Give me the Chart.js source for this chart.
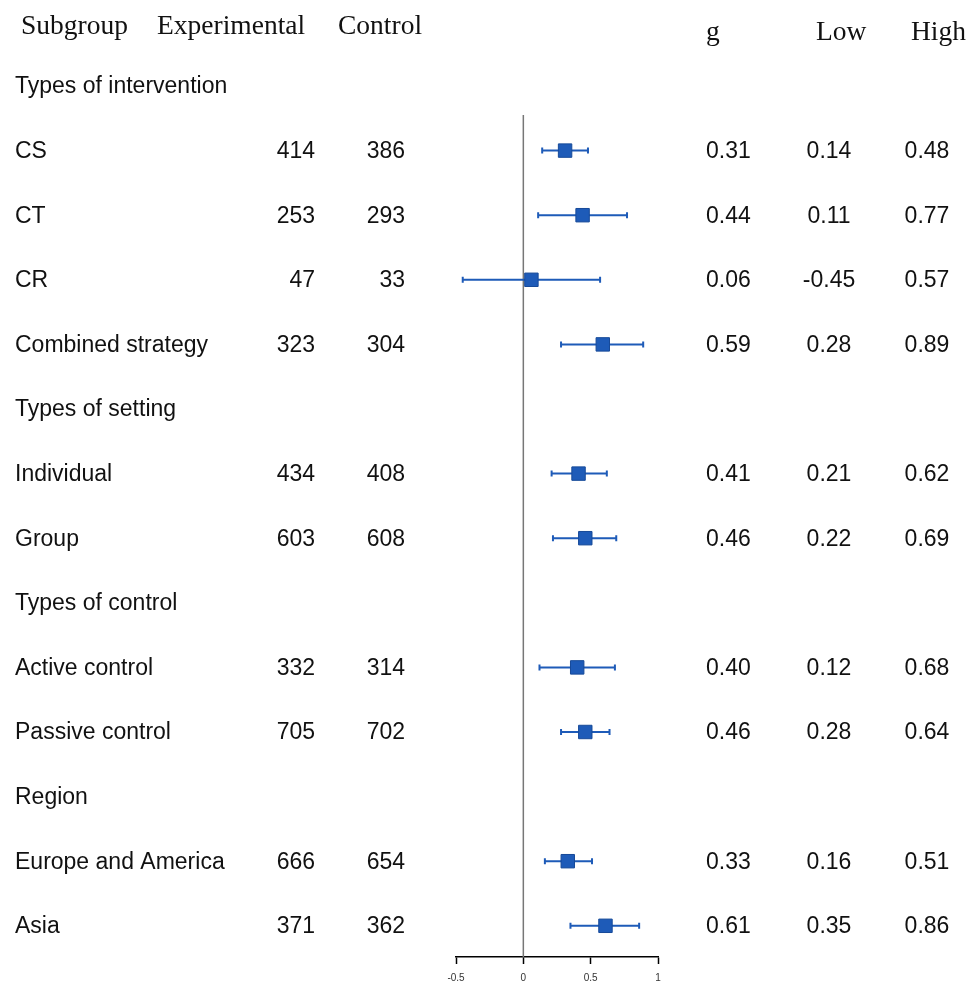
<!DOCTYPE html>
<html>
<head>
<meta charset="utf-8">
<script src="https://cdn.jsdelivr.net/npm/chart.js@4"></script>
<style>
  html, body { margin: 0; padding: 0; background: #fff; }
  #wrap { width: 978px; height: 986px; position: relative; }
</style>
</head>
<body>
<div id="wrap"><canvas id="c" width="978" height="986"></canvas></div>
<script>
// ---- data ----
const rowLabels = ['Types of intervention', 'CS', 'CT', 'CR', 'Combined strategy',
  'Types of setting', 'Individual', 'Group',
  'Types of control', 'Active control', 'Passive control',
  'Region', 'Europe and America', 'Asia'];
const experimentalN = [null, 414, 253, 47, 323, null, 434, 603, null, 332, 705, null, 666, 371];
const controlN      = [null, 386, 293, 33, 304, null, 408, 608, null, 314, 702, null, 654, 362];
const gValues   = [null, 0.31, 0.44, 0.06, 0.59, null, 0.41, 0.46, null, 0.40, 0.46, null, 0.33, 0.61];
const lowValues = [null, 0.14, 0.11, -0.45, 0.28, null, 0.21, 0.22, null, 0.12, 0.28, null, 0.16, 0.35];
const highValues= [null, 0.48, 0.77, 0.57, 0.89, null, 0.62, 0.69, null, 0.68, 0.64, null, 0.51, 0.86];
const xTicks = [-0.5, 0, 0.5, 1];
const headers = ['Subgroup', 'Experimental', 'Control', 'g', 'Low', 'High'];

const BLUE = '#1E5BB8';
const points = [];
gValues.forEach((g, i) => { if (g !== null) points.push({ x: g, y: i, lo: lowValues[i], hi: highValues[i] }); });

const forestPlugin = {
  id: 'forest',
  beforeDatasetsDraw(chart) {
    const { ctx, chartArea, scales: { x, y } } = chart;
    ctx.save();
    // zero reference line
    const x0 = x.getPixelForValue(0);
    ctx.strokeStyle = '#777';
    ctx.lineWidth = 1.5;
    ctx.beginPath();
    ctx.moveTo(x0, chartArea.top);
    ctx.lineTo(x0, chartArea.bottom);
    ctx.stroke();
    // error bars
    ctx.strokeStyle = BLUE;
    ctx.lineWidth = 2;
    points.forEach(p => {
      const py = y.getPixelForValue(p.y);
      const xl = x.getPixelForValue(p.lo), xh = x.getPixelForValue(p.hi);
      ctx.beginPath();
      ctx.moveTo(xl, py); ctx.lineTo(xh, py);
      ctx.moveTo(xl, py - 3); ctx.lineTo(xl, py + 3);
      ctx.moveTo(xh, py - 3); ctx.lineTo(xh, py + 3);
      ctx.stroke();
    });
    ctx.restore();
  },
  afterDraw(chart) {
    const { ctx, scales: { y } } = chart;
    ctx.save();
    // headers
    ctx.fillStyle = '#111';
    ctx.font = '27.5px "Liberation Serif", "Times New Roman", serif';
    ctx.textBaseline = 'alphabetic';
    ctx.textAlign = 'left';
    ctx.fillText(headers[0], 21, 34);
    ctx.fillText(headers[1], 157, 34);
    ctx.fillText(headers[2], 338, 34);
    ctx.fillText(headers[3], 706, 40);
    ctx.fillText(headers[4], 816, 40);
    ctx.fillText(headers[5], 911, 40);
    // rows
    ctx.font = '23px "Liberation Sans", Arial, sans-serif';
    ctx.textBaseline = 'middle';
    rowLabels.forEach((lab, i) => {
      const py = y.getPixelForValue(i) + 1;
      ctx.textAlign = 'left';
      ctx.fillText(lab, 15, py);
      if (experimentalN[i] !== null) {
        ctx.textAlign = 'right';
        ctx.fillText(String(experimentalN[i]), 315, py);
        ctx.fillText(String(controlN[i]), 405, py);
        ctx.textAlign = 'left';
        ctx.fillText(gValues[i].toFixed(2), 706, py);
        ctx.textAlign = 'center';
        ctx.fillText(lowValues[i].toFixed(2), 829, py);
        ctx.fillText(highValues[i].toFixed(2), 927, py);
      }
    });
    ctx.restore();
  }
};

new Chart(document.getElementById('c'), {
  type: 'scatter',
  data: {
    datasets: [{
      data: points,
      pointStyle: 'rect',
      pointRadius: 9.5,
      pointHoverRadius: 9.5,
      backgroundColor: BLUE,
      borderColor: '#174a99',
      borderWidth: 1
    }]
  },
  options: {
    responsive: false,
    animation: false,
    events: [],
    layout: { padding: { left: 456, right: 320, top: 115, bottom: 0 } },
    plugins: { legend: { display: false }, tooltip: { enabled: false } },
    scales: {
      x: {
        type: 'linear',
        min: -0.5, max: 1,
        offset: false,
        afterBuildTicks: (s) => { s.ticks = xTicks.map(v => ({ value: v })); },
        afterFit: (s) => { s.height = 29; },
        border: { display: true, color: '#000', width: 1.5 },
        grid: { drawOnChartArea: false, drawTicks: true, tickLength: 7, tickColor: '#000', tickWidth: 1.5 },
        ticks: {
          padding: 8,
          color: '#333',
          font: { family: '"Liberation Sans", Arial, sans-serif', size: 10 },
          callback: (v) => String(v)
        }
      },
      y: {
        type: 'linear',
        display: false,
        reverse: true,
        min: 0.449, max: 13.483
      }
    }
  },
  plugins: [forestPlugin]
});
</script>
</body>
</html>
